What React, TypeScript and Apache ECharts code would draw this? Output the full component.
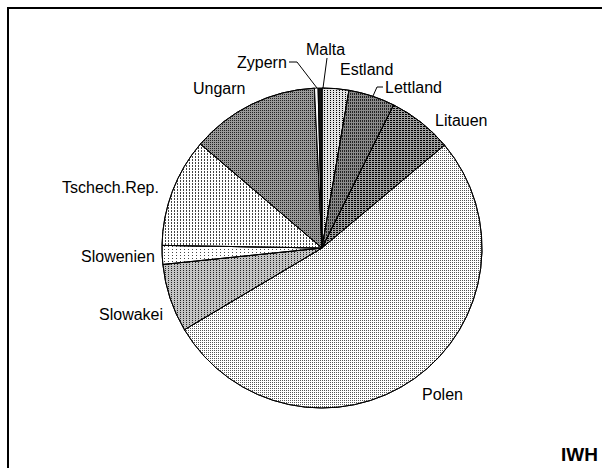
import React, { useEffect, useRef } from "react";
import * as echarts from "echarts";

// Shares in percent, clockwise from 12 o'clock
const categories = [
  "Estland",
  "Lettland",
  "Litauen",
  "Polen",
  "Slowakei",
  "Slowenien",
  "Tschech.Rep.",
  "Ungarn",
  "Zypern",
  "Malta",
];
const shares = [2.7, 4.7, 6.5, 52.6, 6.9, 1.9, 11.0, 13.0, 0.36, 0.39];
const sourceNote = "IWH";

// Styling per slice (grey tone + texture)
const sliceStyles: any[] = [
  { color: "#e2e2e2", decal: { symbol: "rect", symbolSize: 1, dashArrayX: [1, 2], dashArrayY: [1, 1], color: "#000" } },
  { color: "#8a8a8a", decal: { symbol: "rect", symbolSize: 1, dashArrayX: [1, 1], dashArrayY: [2, 1], color: "#222" } },
  { color: "#a0a0a0", decal: { symbol: "rect", symbolSize: 1, dashArrayX: [2, 1], dashArrayY: [1, 1], color: "#000" } },
  { color: "#ffffff", decal: { symbol: "rect", symbolSize: 1, dashArrayX: [1, 1], dashArrayY: [1, 1], color: "#555" } },
  { color: "#c4c4c4", decal: { symbol: "rect", symbolSize: 1, dashArrayX: [1, 2], dashArrayY: [1, 1], color: "#222" } },
  { color: "#ffffff", decal: { symbol: "rect", symbolSize: 1, dashArrayX: [1, 3], dashArrayY: [1, 2], color: "#444" } },
  { color: "#ffffff", decal: { symbol: "rect", symbolSize: 1, dashArrayX: [1, 2], dashArrayY: [2, 1], color: "#444" } },
  { color: "#9a9a9a", decal: { symbol: "rect", symbolSize: 1, dashArrayX: [1, 1], dashArrayY: [1, 1], color: "#222" } },
  { color: "#ffffff" },
  { color: "#111111" },
];

// Label anchor (left x, middle y) and optional leader line
const labelPos: [number, number][] = [
  [340, 69],
  [385, 87],
  [435, 120],
  [422, 394],
  [99, 314],
  [81, 256],
  [62, 187],
  [193, 88],
  [237, 62],
  [306, 49],
];
const leaderLines: Record<number, number[][]> = {
  1: [[383, 87], [377, 87], [373, 96]],
  8: [[289, 62], [297, 62], [317, 88]],
  9: [[327, 58], [323, 88]],
};

export default function App() {
  const ref = useRef<HTMLDivElement>(null);
  useEffect(() => {
    if (!ref.current) return;
    const chart = echarts.init(ref.current, undefined, { renderer: "svg" });
    const data = categories.map((name, i) => ({
      name,
      value: shares[i],
      itemStyle: { ...sliceStyles[i] },
      labelLine: { show: !!leaderLines[i] },
    }));
    chart.setOption({
      animation: false,
      backgroundColor: "#ffffff",
      series: [
        {
          type: "pie",
          center: [322, 248],
          radius: 160,
          startAngle: 90,
          clockwise: true,
          minAngle: 0,
          avoidLabelOverlap: false,
          silent: true,
          itemStyle: { borderColor: "#000", borderWidth: 1 },
          label: {
            show: true,
            position: "outside",
            formatter: "{b}",
            color: "#000",
            fontFamily: "Liberation Sans, Arial, sans-serif",
            fontSize: 16,
          },
          labelLine: {
            show: false,
            lineStyle: { color: "#000", width: 1 },
          },
          labelLayout: (params: any) => {
            const i = params.dataIndex;
            const p = labelPos[i];
            const o: any = {
              x: p[0],
              y: p[1],
              align: "left",
              verticalAlign: "middle",
            };
            if (leaderLines[i]) o.labelLinePoints = leaderLines[i];
            return o;
          },
          data,
        },
      ],
      graphic: [
        {
          type: "rect",
          silent: true,
          shape: { x: 8, y: 8, width: 620, height: 480 },
          style: { fill: "none", stroke: "#000", lineWidth: 2 },
        },
        {
          type: "text",
          silent: true,
          x: 561,
          y: 454,
          style: {
            text: sourceNote,
            fill: "#000",
            font: "bold 19px 'Liberation Sans', Arial, sans-serif",
            verticalAlign: "middle",
            align: "left",
          },
        },
      ],
    });
    return () => chart.dispose();
  }, []);
  return (
    <div
      ref={ref}
      style={{ position: "absolute", left: 0, top: 0, width: 602, height: 468 }}
    />
  );
}
